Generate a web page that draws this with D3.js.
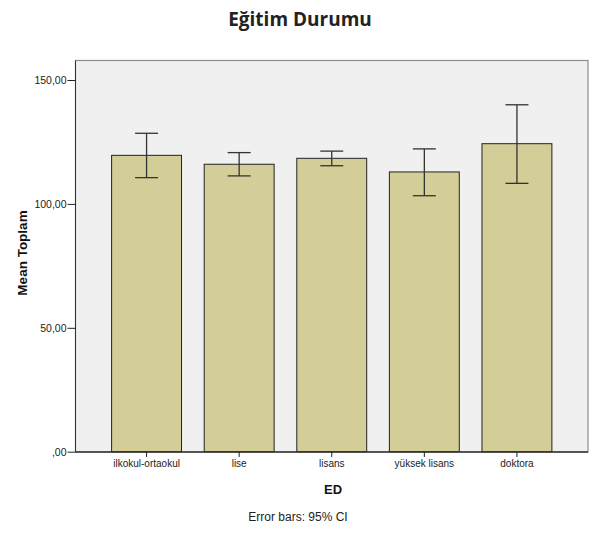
<!DOCTYPE html>
<html><head><meta charset="utf-8">
<script src="https://cdn.jsdelivr.net/npm/d3@7"></script>
<style>body{margin:0;background:#fff;} svg{display:block;}</style>
</head><body>
<svg id="c" width="590" height="534"></svg>
<script>
const categories = ["ilkokul-ortaokul", "lise", "lisans", "yüksek lisans", "doktora"];
const means = [119.6, 116.0, 118.4, 112.9, 124.3];
const ciLow = [110.6, 111.3, 115.4, 103.3, 108.3];
const ciHigh = [128.5, 120.7, 121.3, 122.2, 140.0];
const yTicks = [0, 50, 100, 150];
const yTickLabels = [",00", "50,00", "100,00", "150,00"];

(function () {
const svg = d3.select("#c");
const pL = 75.5, pR = 588, pT = 60.5, pB = 452;

const y = d3.scaleLinear().domain([0, 150]).range([451.7, 80]);
const x = d3.scaleBand().domain(categories).range([pL, pR]).paddingInner(0.245).paddingOuter(0.39);

svg.append("rect").attr("x", pL).attr("y", pT).attr("width", pR - pL).attr("height", pB - pT)
  .attr("fill", "#f0f0f0").attr("stroke", "#8c8c8c").attr("stroke-width", 1.2);

svg.selectAll("rect.bar").data(categories).enter().append("rect").attr("class", "bar")
  .attr("x", d => x(d)).attr("width", x.bandwidth())
  .attr("y", (d, i) => y(means[i])).attr("height", (d, i) => y(0) - y(means[i]))
  .attr("fill", "#d3ce97").attr("stroke", "#222").attr("stroke-width", 1);

const cap = 11.5;
const eb = svg.append("g").attr("stroke", "#333").attr("stroke-width", 1.3);
categories.forEach((c, i) => {
  const cx = x(c) + x.bandwidth() / 2;
  eb.append("line").attr("x1", cx).attr("x2", cx).attr("y1", y(ciLow[i])).attr("y2", y(ciHigh[i]));
  eb.append("line").attr("x1", cx - cap).attr("x2", cx + cap).attr("y1", y(ciLow[i])).attr("y2", y(ciLow[i]));
  eb.append("line").attr("x1", cx - cap).attr("x2", cx + cap).attr("y1", y(ciHigh[i])).attr("y2", y(ciHigh[i]));
});

const yAxis = d3.axisLeft(y).tickValues(yTicks).tickFormat((d, i) => yTickLabels[i]).tickSize(8).tickPadding(1);
const gy = svg.append("g").attr("transform", `translate(${pL},0)`).call(yAxis);
gy.select(".domain").attr("d", `M0,${pT}V${pB}`).attr("stroke", "#333");
gy.selectAll(".tick line").attr("stroke", "#222");
gy.selectAll("text").attr("font-family", "'Liberation Sans', Arial, sans-serif").attr("font-size", "10.5px").attr("fill", "#222");

const xAxis = d3.axisBottom(x).tickSize(5).tickPadding(3);
const gx = svg.append("g").attr("transform", `translate(0,${pB})`).call(xAxis);
gx.select(".domain").attr("d", `M${pL},0H${pR}`).attr("stroke", "#333").attr("stroke-width", 1.3);
gx.selectAll(".tick line").attr("stroke", "#222");
gx.selectAll("text").attr("font-family", "'Liberation Sans', Arial, sans-serif").attr("font-size", "10px").attr("fill", "#222");

svg.append("text").attr("x", 300).attr("y", 26).attr("text-anchor", "middle")
  .attr("font-family", "'Open Sans', 'Noto Sans', sans-serif").attr("font-weight", "bold").attr("font-size", "19px")
  .attr("fill", "#222").text("Eğitim Durumu");

svg.append("text").attr("transform", `translate(27,253) rotate(-90)`).attr("text-anchor", "middle")
  .attr("font-family", "'Liberation Sans', Arial, sans-serif").attr("font-weight", "bold").attr("font-size", "13.5px")
  .attr("fill", "#111").text("Mean Toplam");

svg.append("text").attr("x", 333).attr("y", 494).attr("text-anchor", "middle")
  .attr("font-family", "'Liberation Sans', Arial, sans-serif").attr("font-weight", "bold").attr("font-size", "13px")
  .attr("fill", "#111").text("ED");

svg.append("text").attr("x", 298).attr("y", 521).attr("text-anchor", "middle")
  .attr("font-family", "'Liberation Sans', Arial, sans-serif").attr("font-size", "12px")
  .attr("fill", "#222").text("Error bars: 95% CI");
})();
</script>
</body></html>
